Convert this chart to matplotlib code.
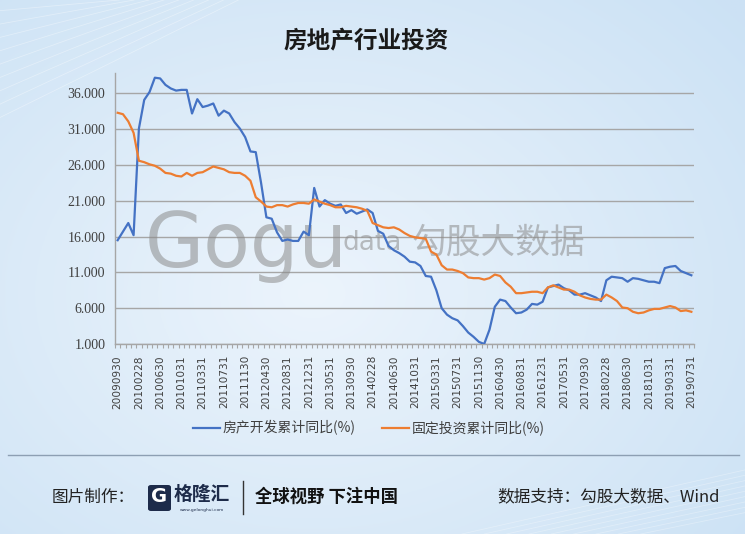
import numpy as np
import pandas as pd
import matplotlib
matplotlib.use('Agg')
import matplotlib.pyplot as plt
from matplotlib.patches import FancyBboxPatch
from matplotlib.lines import Line2D

plt.rcParams['font.family'] = ['Noto Sans CJK SC', 'DejaVu Sans']

# month-end categories, January is not published (Jan+Feb combined)
months = pd.date_range('2009-09-30', '2019-07-31', freq='ME')
months = months[months.month != 1]
dates = [d.strftime('%Y%m%d') for d in months]

# 房产开发累计同比(%)
realestate = [15.5, 16.7, 17.9, 16.2,
              31.1, 35.1, 36.2, 38.2, 38.1, 37.2, 36.7, 36.4, 36.5, 36.5, 33.2,
              35.2, 34.1, 34.3, 34.6, 32.9, 33.6, 33.2, 32.0, 31.1, 29.9, 27.9,
              27.8, 23.5, 18.7, 18.5, 16.6, 15.4, 15.6, 15.4, 15.4, 16.7, 16.2,
              22.8, 20.2, 21.1, 20.6, 20.3, 20.5, 19.3, 19.7, 19.2, 19.5, 19.8,
              19.3, 16.8, 16.4, 14.7, 14.1, 13.7, 13.2, 12.5, 12.4, 11.9, 10.5,
              10.4, 8.5, 6.0, 5.1, 4.6, 4.3, 3.5, 2.6, 2.0, 1.3, 1.0,
              3.0, 6.2, 7.2, 7.0, 6.1, 5.3, 5.4, 5.8, 6.6, 6.5, 6.9,
              8.9, 9.1, 9.3, 8.8, 8.5, 7.9, 7.9, 8.1, 7.8, 7.5, 7.0,
              9.9, 10.4, 10.3, 10.2, 9.7, 10.2, 10.1, 9.9, 9.7, 9.7, 9.5,
              11.6, 11.8, 11.9, 11.2, 10.9, 10.6]

# 固定投资累计同比(%)
fixed_inv = [33.3, 33.1, 32.1, 30.5,
             26.6, 26.4, 26.1, 25.9, 25.5, 24.9, 24.8, 24.5, 24.4, 24.9, 24.5,
             24.9, 25.0, 25.4, 25.8, 25.6, 25.4, 25.0, 24.9, 24.9, 24.5, 23.8,
             21.5, 20.9, 20.2, 20.1, 20.4, 20.4, 20.2, 20.5, 20.7, 20.7, 20.6,
             21.2, 20.9, 20.6, 20.4, 20.1, 20.1, 20.3, 20.2, 20.1, 19.9, 19.6,
             17.9, 17.6, 17.3, 17.2, 17.3, 17.0, 16.5, 16.1, 15.9, 15.8, 15.7,
             13.9, 13.5, 12.0, 11.4, 11.4, 11.2, 10.9, 10.3, 10.2, 10.2, 10.0,
             10.2, 10.7, 10.5, 9.6, 9.0, 8.1, 8.1, 8.2, 8.3, 8.3, 8.1,
             8.9, 9.2, 8.9, 8.6, 8.6, 8.3, 7.8, 7.5, 7.3, 7.2, 7.2,
             7.9, 7.5, 7.0, 6.1, 6.0, 5.5, 5.3, 5.4, 5.7, 5.9, 5.9,
             6.1, 6.3, 6.1, 5.6, 5.7, 5.5]

series_names = ['房产开发累计同比(%)', '固定投资累计同比(%)']
colors = ['#4472C4', '#ED7D31']

W, H = 745, 534
fig = plt.figure(figsize=(W / 100, H / 100), dpi=100)

# background gradient
bg = fig.add_axes([0, 0, 1, 1], zorder=-10)
yy, xx = np.mgrid[0:1:200j, 0:1:300j]
r = np.clip(np.sqrt(((xx - 0.42) / 0.75) ** 2 + ((yy - 0.55) / 0.8) ** 2), 0, 1)
light = np.array([0.925, 0.957, 0.988])
edge = np.array([0.80, 0.886, 0.96])
img = light[None, None, :] * (1 - r[..., None]) + edge[None, None, :] * r[..., None]
bg.imshow(img, aspect='auto', extent=[0, 1, 0, 1], origin='upper')
for k in range(9):
    bg.plot([0.0, 0.32 - k * 0.02], [0.78 + k * 0.025, 1.0], color='white', lw=0.6, alpha=0.35)
    bg.plot([0.62 + k * 0.03, 1.0], [0.0, 0.12 - k * 0.01], color='white', lw=0.6, alpha=0.3)
bg.set_xlim(0, 1)
bg.set_ylim(0, 1)
bg.axis('off')

ax = fig.add_axes([115 / W, 1 - 344 / H, (694 - 115) / W, (344 - 72.7) / H])
ax.patch.set_alpha(0)
x = np.arange(len(dates))
ax.plot(x, realestate, color=colors[0], lw=1.6, label=series_names[0], zorder=3)
ax.plot(x, fixed_inv, color=colors[1], lw=1.6, label=series_names[1], zorder=4)

ax.set_xlim(-0.5, len(dates) - 0.5)
ax.set_ylim(1, 38.9)
ax.set_yticks(np.arange(1, 37, 5))
ax.set_yticklabels(['%.3f' % v for v in np.arange(1, 37, 5)],
                   family='Liberation Serif', fontsize=10, color='#404040')
ax.tick_params(axis='y', length=0, pad=7)
ax.grid(axis='y', color='#a6a6a6', lw=1)
ax.set_axisbelow(True)

ax.set_xticks(x[::4])
ax.set_xticklabels(dates[::4], rotation=90, family='DejaVu Sans', fontsize=7.6, color='#404040')
ax.set_xticks(np.arange(-0.5, len(dates), 1), minor=True)
ax.tick_params(axis='x', which='major', length=0, pad=8)
ax.tick_params(axis='x', which='minor', length=3, color='#a6a6a6', width=0.8)

for s in ['top', 'right']:
    ax.spines[s].set_visible(False)
for s in ['left', 'bottom']:
    ax.spines[s].set_color('#a6a6a6')
    ax.spines[s].set_linewidth(1)

# watermark
ax.text(145 / W, 1 - 267 / H, 'Gogu', transform=fig.transFigure, fontsize=55,
        family='DejaVu Sans', color='#8c8c8c', alpha=0.55, ha='left', va='baseline',
        zorder=1.5, clip_on=False)
ax.text(343 / W, 1 - 243 / H, 'data', transform=fig.transFigure, fontsize=19,
        family='DejaVu Sans', color='#8c8c8c', alpha=0.55, ha='left', va='center',
        zorder=1.5, clip_on=False)
ax.text(412 / W, 1 - 243 / H, '勾股大数据', transform=fig.transFigure, fontsize=25,
        color='#8c8c8c', alpha=0.55, ha='left', va='center', zorder=1.5, clip_on=False)

fig.legend(loc='center', bbox_to_anchor=(369 / W, 1 - 428 / H), ncol=2, frameon=False,
           fontsize=10, handlelength=1.95, handletextpad=0.2, columnspacing=1.9,
           labelcolor='#404040')

fig.text(366 / W, 1 - 41 / H, '房地产行业投资', ha='center', va='center',
         fontsize=17, fontweight='bold', color='#1a1a1a')

# footer
fig.add_artist(Line2D([8 / W, 739 / W], [1 - 455 / H] * 2, color='#8d9fb3', lw=1))
fy = 1 - 497 / H
fig.text(52 / W, fy, '图片制作：', ha='left', va='center', fontsize=12, color='#222222')
fig.add_artist(FancyBboxPatch((148 / W, 1 - 511 / H), 23 / W, 26 / H,
                              boxstyle='round,pad=0,rounding_size=0.004',
                              transform=fig.transFigure, facecolor='#1d2b4a', edgecolor='none'))
fig.text(159.5 / W, 1 - 497 / H, 'G', ha='center', va='center', fontsize=14,
         fontweight='bold', color='white', family='DejaVu Sans')
fig.text(174 / W, 1 - 494 / H, '格隆汇', ha='left', va='center', fontsize=13.5,
         fontweight='bold', color='#1d2b4a')
fig.text(202 / W, 1 - 510 / H, 'www.gelonghui.com', ha='center', va='center',
         fontsize=3.2, color='#1d2b4a', family='DejaVu Sans')
fig.add_artist(Line2D([243 / W] * 2, [1 - 481 / H, 1 - 514 / H], color='#333333', lw=1))
fig.text(255 / W, fy, '全球视野 下注中国', ha='left', va='center', fontsize=12.5,
         fontweight='bold', color='#111111')
fig.text(497 / W, fy, '数据支持：勾股大数据、Wind', ha='left', va='center',
         fontsize=12, color='#222222')

fig.savefig('out.png', dpi=100)
